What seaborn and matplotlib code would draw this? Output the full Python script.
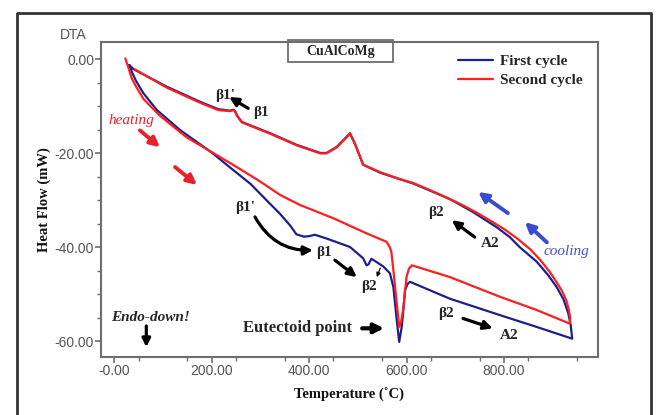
import numpy as np
import pandas as pd
import matplotlib
matplotlib.use("Agg")
import matplotlib.pyplot as plt
from matplotlib.patches import Rectangle
from matplotlib.lines import Line2D
import seaborn as sns

# ---------------- data ----------------
first_heat_T = [31, 36, 45, 60, 88, 135, 200, 250, 280, 316, 340, 361, 374, 389, 400, 412,
                436, 484, 511, 518, 522, 528, 540, 553, 566, 573, 580, 585, 590, 593, 597,
                602, 607, 689, 792, 867, 940]
first_heat_HF = [-1.2, -2.6, -4.6, -7.2, -10.8, -15.0, -19.8, -24.0, -26.5, -30.3, -32.8, -35.3,
                 -37.2, -37.7, -37.6, -37.3, -38.1, -39.9, -42.3, -43.8, -43.6, -42.4, -43.2,
                 -44.1, -45.5, -48.4, -55.5, -60.1, -57.0, -54.0, -49.1, -47.8, -47.3, -50.9,
                 -54.4, -56.9, -59.4]
first_cool_T = [937, 932, 922, 908, 890, 867, 833, 812, 785, 758, 737, 696, 682, 614, 587, 546,
                511, 494, 484, 474, 457, 436, 423, 375, 320, 262, 252, 248, 245, 238, 214, 176,
                108, 40, 31]
first_cool_HF = [-56.5, -54.0, -51.0, -48.4, -45.8, -43.0, -40.0, -37.8, -35.7, -33.9, -32.5,
                 -30.1, -29.4, -26.4, -25.5, -24.1, -22.4, -17.9, -15.7, -16.8, -18.6, -19.9,
                 -19.9, -18.2, -15.7, -13.3, -11.9, -11.0, -10.7, -10.9, -10.6, -9.0, -5.8,
                 -2.1, -1.2]

second_heat_T = [23, 30, 36, 45, 60, 94, 149, 200, 258, 300, 340, 382, 450, 518, 559, 566, 569,
                 573, 580, 585, 589, 593, 600, 605, 611, 689, 792, 867, 935]
second_heat_HF = [0.2, -2.0, -4.0, -5.8, -8.4, -12.0, -16.6, -19.7, -23.3, -26.0, -28.8, -31.0,
                  -33.8, -37.0, -38.8, -40.0, -41.0, -44.8, -51.9, -56.9, -55.8, -53.3, -46.3,
                  -44.5, -43.8, -46.3, -50.5, -53.3, -56.2]
second_cool_T = [936, 933, 928, 920, 908, 894, 874, 853, 826, 799, 772, 744, 715, 689, 650, 614,
                 587, 546, 511, 494, 484, 474, 457, 436, 423, 375, 320, 262, 252, 248, 245, 238,
                 214, 176, 108, 42]
second_cool_HF = [-55.0, -53.2, -51.3, -49.4, -47.4, -45.2, -42.6, -40.3, -38.0, -36.0, -34.3,
                  -32.6, -31.0, -29.7, -27.9, -26.3, -25.5, -24.0, -22.4, -17.9, -15.8, -16.9,
                  -18.7, -20.0, -20.0, -18.3, -15.8, -13.4, -12.0, -11.0, -10.8, -11.0, -10.8,
                  -9.2, -6.0, -2.1]

cycles = ["First cycle", "Second cycle"]
x_ticks = [0, 200, 400, 600, 800]
x_tick_labels = ["-0.00", "200.00", "400.00", "600.00", "800.00"]
y_ticks = [0, -20, -40, -60]
y_tick_labels = ["0.00", "-20.00", "-40.00", "-60.00"]

BLUE = "#1f1f8c"
RED = "#ff1e1e"

df = pd.concat([
    pd.DataFrame({"T": first_heat_T + first_cool_T,
                  "HF": first_heat_HF + first_cool_HF, "cycle": cycles[0]}),
    pd.DataFrame({"T": second_heat_T + second_cool_T,
                  "HF": second_heat_HF + second_cool_HF, "cycle": cycles[1]}),
], ignore_index=True)

# ---------------- figure ----------------
sns.set_style("ticks")
plt.rcParams["font.family"] = ["Liberation Sans", "DejaVu Sans"]

fig = plt.figure(figsize=(6.56, 4.15), dpi=100)
ax = fig.add_axes([101 / 656, 1 - 357 / 415, 497 / 656, 315 / 415])

sns.lineplot(data=df, x="T", y="HF", hue="cycle", palette={cycles[0]: BLUE, cycles[1]: RED},
             sort=False, estimator=None, lw=1.6, ax=ax, legend=False, zorder=3)
ax.lines[1].set_zorder(4)

ax.set_xlim(-27, 993)
ax.set_ylim(-63.3, 3.7)

GRAY = "#6e6e6e"
for s in ax.spines.values():
    s.set_color(GRAY)
    s.set_linewidth(1.5)

ax.set_xticks(x_ticks)
ax.set_xticklabels(x_tick_labels)
ax.set_yticks(y_ticks)
ax.set_yticklabels(y_tick_labels)
ax.set_xticks(np.arange(50, 951, 100), minor=True)
ax.set_yticks(np.arange(-60, 1, 5), minor=True)
ax.tick_params(which="major", length=4, width=1.2, color=GRAY, labelcolor="#555555",
               labelsize=10, pad=1)
ax.tick_params(which="minor", length=3, width=1.0, color=GRAY)

SERIF = ["Liberation Serif", "DejaVu Serif"]
ax.set_xlabel("Temperature (˚C)", family=SERIF, weight="bold", fontsize=10.5, color="#111111")
ax.set_ylabel("Heat Flow (mW)", family=SERIF, weight="bold", fontsize=10.5, color="#111111")
ax.xaxis.set_label_coords(0.5, -0.098)
ax.yaxis.set_label_coords(-0.100, 0.5)

fig.text(73 / 656, 1 - 35 / 415, "DTA", ha="center", va="center", fontsize=10, color="#555555")

# sample box
ax.add_patch(Rectangle((0.376, 0.937), 0.212, 0.07, transform=ax.transAxes, fill=False,
                       edgecolor=GRAY, lw=1.3, clip_on=False))
ax.text(0.482, 0.969, "CuAlCoMg", transform=ax.transAxes, ha="center", va="center",
        family=SERIF, weight="bold", fontsize=10)

# legend
handles = [Line2D([], [], color=BLUE, lw=1.6), Line2D([], [], color=RED, lw=1.6)]
leg = ax.legend(handles, cycles, loc="upper left", bbox_to_anchor=(0.702, 0.985), frameon=False,
                borderpad=0, handlelength=2.3, handletextpad=0.5, labelspacing=0.35,
                prop={"family": SERIF, "weight": "bold", "size": 11})

# ---------------- annotations ----------------
def label(x, y, s, size=11, **kw):
    ax.text(x, y, s, ha="center", va="center", family=SERIF, weight="bold", fontsize=size,
            zorder=6, **kw)

def arrow(x0, y0, x1, y1, color="black", lw=2.3, ms=13, rad=0.0):
    ax.annotate("", xy=(x1, y1), xytext=(x0, y0),
                arrowprops=dict(arrowstyle="-|>", color=color, lw=lw, mutation_scale=ms,
                                shrinkA=0, shrinkB=0,
                                connectionstyle=f"arc3,rad={rad}"), zorder=6)

label(228, -7.6, "β1'")
arrow(275, -10.4, 236, -8.0)
label(301, -11.2, "β1")

ax.text(35, -12.9, "heating", ha="center", va="center", family=SERIF, style="italic",
        fontsize=11, color="#e8202a")
arrow(53, -15.1, 94, -18.7, color="#e8202a", lw=2.8, ms=14)
arrow(125, -22.9, 170, -26.7, color="#e8202a", lw=2.8, ms=14)

label(269, -31.6, "β1'")
arrow(289, -33.5, 408, -40.6, rad=0.3)
label(431, -41.0, "β1")
arrow(453, -42.7, 498, -46.3)
label(523, -48.2, "β2")
arrow(546, -44.4, 539, -46.3, lw=0.9, ms=6)

label(660, -32.5, "β2")
arrow(740, -37.8, 693, -34.2)
label(771, -39.1, "A2")

ax.text(929, -40.8, "cooling", ha="center", va="center", family=SERIF, style="italic",
        fontsize=11, color="#4050d0")
arrow(808, -32.7, 747, -28.2, color="#3a4bd0", lw=2.8, ms=14)
arrow(888, -38.9, 843, -34.6, color="#3a4bd0", lw=2.8, ms=14)

label(681, -54.0, "β2")
arrow(716, -55.1, 777, -57.2)
label(810, -58.7, "A2")

label(377, -57.2, "Eutectoid point", size=12)
arrow(509, -57.2, 554, -57.2, lw=3, ms=14)

ax.text(74, -55.0, "Endo-down!", ha="center", va="center", family=SERIF, style="italic",
        weight="semibold", fontsize=11)
arrow(66, -56.7, 66, -61.2, lw=2.3, ms=12)

# outer frame
fig.add_artist(Line2D([0.0252, 0.0252, 0.9924, 0.9924], [-0.05, 0.968, 0.968, -0.05],
                      transform=fig.transFigure, color="#333333", lw=2))

fig.savefig("out.png", dpi=100)
